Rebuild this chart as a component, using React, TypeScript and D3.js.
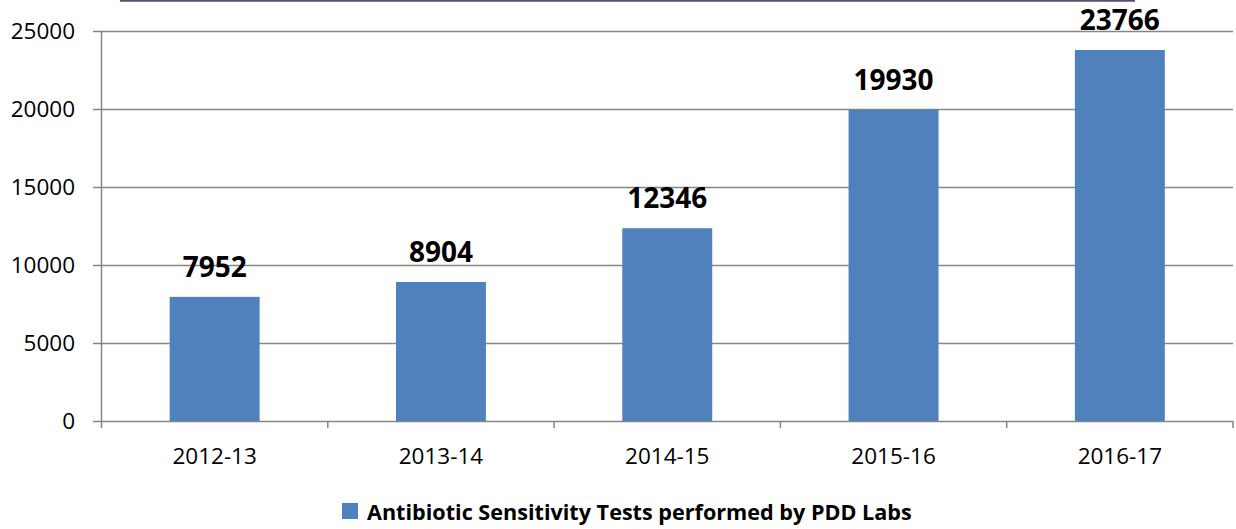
import React from "react";
import * as d3 from "d3";

const categories = ["2012-13", "2013-14", "2014-15", "2015-16", "2016-17"];
const values = [7952, 8904, 12346, 19930, 23766];
const yTicks = [0, 5000, 10000, 15000, 20000, 25000];
const seriesName = "Antibiotic Sensitivity Tests performed by PDD Labs";

const W = 1236;
const H = 529;
const left = 101.5;
const right = 1233;
const top = 30.7;
const bottom = 421;

export default function App() {
  const x = d3
    .scaleBand<string>()
    .domain(categories)
    .range([left, right])
    .paddingInner(0.6025)
    .paddingOuter(0.30125);
  const y = d3.scaleLinear().domain([0, 25000]).range([bottom, top]);
  const step = x.step();
  const grid = "#868686";
  const font = "'Open Sans', 'Liberation Sans', sans-serif";

  return (
    <svg
      width={W}
      height={H}
      style={{ position: "absolute", left: 0, top: 0, background: "#fff" }}
    >
      <line x1={120} x2={1135} y1={0.5} y2={0.5} stroke="#5f497a" strokeWidth={2.5} />
      {yTicks.map((t) => (
        <g key={t}>
          <line
            x1={93}
            x2={right}
            y1={Math.round(y(t)) + 0.5}
            y2={Math.round(y(t)) + 0.5}
            stroke={grid}
            strokeWidth={1.3}
          />
          <text
            x={75}
            y={y(t)}
            dy="0.36em"
            textAnchor="end"
            fontFamily={font}
            fontSize={22.5}
            fill="#000"
          >
            {t}
          </text>
        </g>
      ))}
      <line x1={left} x2={left} y1={top} y2={bottom} stroke={grid} strokeWidth={1.5} />
      {d3.range(categories.length + 1).map((i) => (
        <line
          key={i}
          x1={left + i * step}
          x2={left + i * step}
          y1={bottom}
          y2={bottom + 7}
          stroke={grid}
          strokeWidth={1.5}
        />
      ))}
      {categories.map((c, i) => (
        <g key={c}>
          <rect
            x={x(c)}
            y={y(values[i])}
            width={x.bandwidth()}
            height={bottom - y(values[i])}
            fill="#4f81bd"
          />
          <text
            x={(x(c) as number) + x.bandwidth() / 2}
            y={y(values[i]) - 20}
            textAnchor="middle"
            fontFamily={font}
            fontWeight="bold"
            fontSize={28}
            fill="#000"
          >
            {values[i]}
          </text>
          <text
            x={(x(c) as number) + x.bandwidth() / 2}
            y={464}
            textAnchor="middle"
            fontFamily={font}
            fontSize={22.5}
            fill="#000"
          >
            {c}
          </text>
        </g>
      ))}
      <rect x={342} y={503} width={16} height={16} fill="#4f81bd" />
      <text
        x={367}
        y={520}
        fontFamily={font}
        fontWeight="bold"
        fontSize={21.6}
        fill="#000"
      >
        {seriesName}
      </text>
    </svg>
  );
}
